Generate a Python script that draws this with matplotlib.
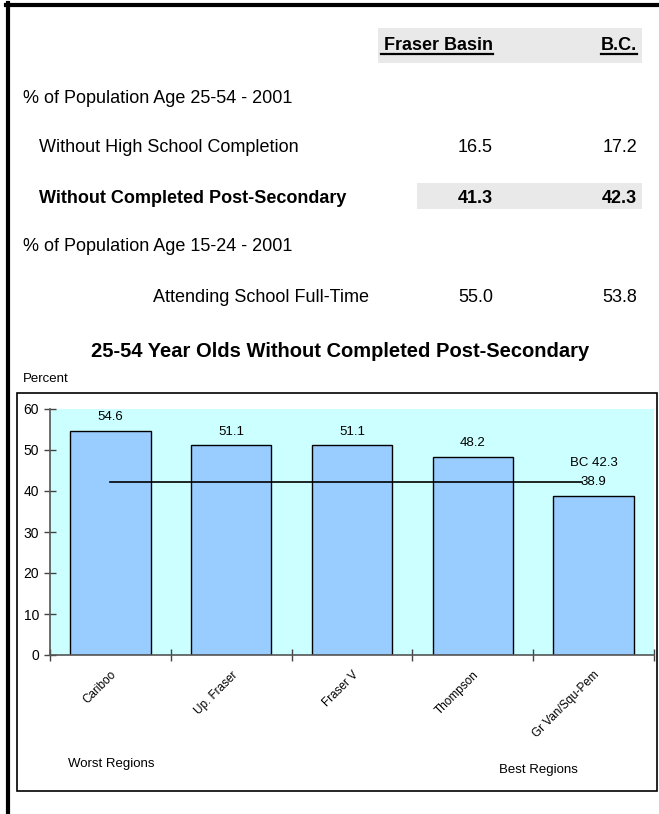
import matplotlib
matplotlib.use("Agg")
import matplotlib.pyplot as plt
from matplotlib.patches import Rectangle
from matplotlib.lines import Line2D

plt.rcParams['font.family'] = ['Liberation Sans', 'DejaVu Sans']

# ---- data ----
col_headers = ["Fraser Basin", "B.C."]
section1 = "% of Population Age 25-54 - 2001"
row1_label = "Without High School Completion"
row1_values = ["16.5", "17.2"]
row2_label = "Without Completed Post-Secondary"
row2_values = ["41.3", "42.3"]
section2 = "% of Population Age 15-24 - 2001"
row3_label = "Attending School Full-Time"
row3_values = ["55.0", "53.8"]

chart_title = "25-54 Year Olds Without Completed Post-Secondary"
regions = ["Cariboo", "Up. Fraser", "Fraser V", "Thompson", "Gr Van/Squ-Pem"]
values = [54.6, 51.1, 51.1, 48.2, 38.9]
bc_value = 42.3
bc_label = "BC 42.3"
y_ticks = [0, 10, 20, 30, 40, 50, 60]

W, H = 659, 814
fig = plt.figure(figsize=(W / 100, H / 100), dpi=100)


def fx(x):
    return x / W


def fy(y):
    return 1 - y / H


# page border (top and left)
fig.add_artist(Line2D([fx(6), fx(659)], [fy(5), fy(5)], color='black', lw=3.0))
fig.add_artist(Line2D([fx(8), fx(8)], [fy(3), fy(814)], color='black', lw=3.0))

# shaded cells
fig.add_artist(Rectangle((fx(378), fy(63)), fx(642) - fx(378), fy(28) - fy(63),
                         facecolor='#e9e9e9', edgecolor='none', zorder=0))
fig.add_artist(Rectangle((fx(417), fy(209)), fx(642) - fx(417), fy(183) - fy(209),
                         facecolor='#e9e9e9', edgecolor='none', zorder=0))

FS = 13
# header
fig.text(fx(493), fy(50), col_headers[0], ha='right', va='baseline',
         fontsize=FS, fontweight='bold')
fig.text(fx(637), fy(50), col_headers[1], ha='right', va='baseline',
         fontsize=FS, fontweight='bold')
fig.add_artist(Line2D([fx(381), fx(493)], [fy(54), fy(54)], color='black', lw=1.6))
fig.add_artist(Line2D([fx(601), fx(637)], [fy(54), fy(54)], color='black', lw=1.6))

fig.text(fx(23), fy(103), section1, ha='left', va='baseline', fontsize=FS)
fig.text(fx(39), fy(152), row1_label, ha='left', va='baseline', fontsize=FS)
fig.text(fx(493), fy(152), row1_values[0], ha='right', va='baseline', fontsize=FS)
fig.text(fx(637), fy(152), row1_values[1], ha='right', va='baseline', fontsize=FS)

fig.text(fx(39), fy(203), row2_label, ha='left', va='baseline', fontsize=FS, fontweight='bold')
fig.text(fx(493), fy(203), row2_values[0], ha='right', va='baseline', fontsize=FS, fontweight='bold')
fig.text(fx(637), fy(203), row2_values[1], ha='right', va='baseline', fontsize=FS, fontweight='bold')

fig.text(fx(23), fy(251), section2, ha='left', va='baseline', fontsize=FS)
fig.text(fx(153), fy(302), row3_label, ha='left', va='baseline', fontsize=FS)
fig.text(fx(493), fy(302), row3_values[0], ha='right', va='baseline', fontsize=FS)
fig.text(fx(637), fy(302), row3_values[1], ha='right', va='baseline', fontsize=FS)

# chart title
fig.text(fx(340), fy(357), chart_title, ha='center', va='baseline', fontsize=14.5,
         fontweight='bold')
fig.text(fx(23), fy(382), "Percent", ha='left', va='baseline', fontsize=9.5)

# chart area box
fig.add_artist(Rectangle((fx(17), fy(791)), fx(657) - fx(17), fy(393) - fy(791),
                         facecolor='white', edgecolor='black', lw=1.2, zorder=0.5))

# plot axes
ax = fig.add_axes([fx(50), fy(655), fx(654) - fx(50), fy(409) - fy(655)])
ax.set_zorder(2)
ax.set_facecolor('#ccffff')
x = list(range(len(regions)))
ax.bar(x, values, width=0.665, color='#99ccff', edgecolor='black', lw=1.0, zorder=2)
ax.set_xlim(-0.5, len(regions) - 0.5)
ax.set_ylim(0, 60)
ax.set_yticks(y_ticks)
ax.tick_params(axis='y', direction='inout', length=8, width=1, color='#444444',
               labelsize=10, pad=4)
ax.set_xticks(x)
ax.set_xticklabels(regions, rotation=45, ha='right', rotation_mode='anchor', fontsize=8.5)
ax.tick_params(axis='x', which='major', length=0, pad=10)
ax.set_xticks([i - 0.5 for i in range(len(regions) + 1)], minor=True)
ax.tick_params(axis='x', which='minor', direction='inout', length=8, width=1, color='#444444')
for s in ['top', 'right']:
    ax.spines[s].set_visible(False)
for s in ['left', 'bottom']:
    ax.spines[s].set_color('#555555')
    ax.spines[s].set_linewidth(1.2)

for xi, v in zip(x, values):
    ax.annotate(f"{v:.1f}", (xi, v), xytext=(0, 10), textcoords='offset points',
                ha='center', va='center', fontsize=9.5, zorder=5)

ax.plot([x[0], x[-1] - 0.1], [bc_value, bc_value], color='black', lw=1.2, zorder=4)
ax.annotate(bc_label, (x[-1], bc_value), xytext=(0, 13.5), textcoords='offset points',
            ha='center', va='center', fontsize=9.5, zorder=5)

fig.text(fx(68), fy(764), "Worst Regions", ha='left', va='center', fontsize=9.5)
fig.text(fx(499), fy(770), "Best Regions", ha='left', va='center', fontsize=9.5)

fig.savefig("out.png", dpi=100)
